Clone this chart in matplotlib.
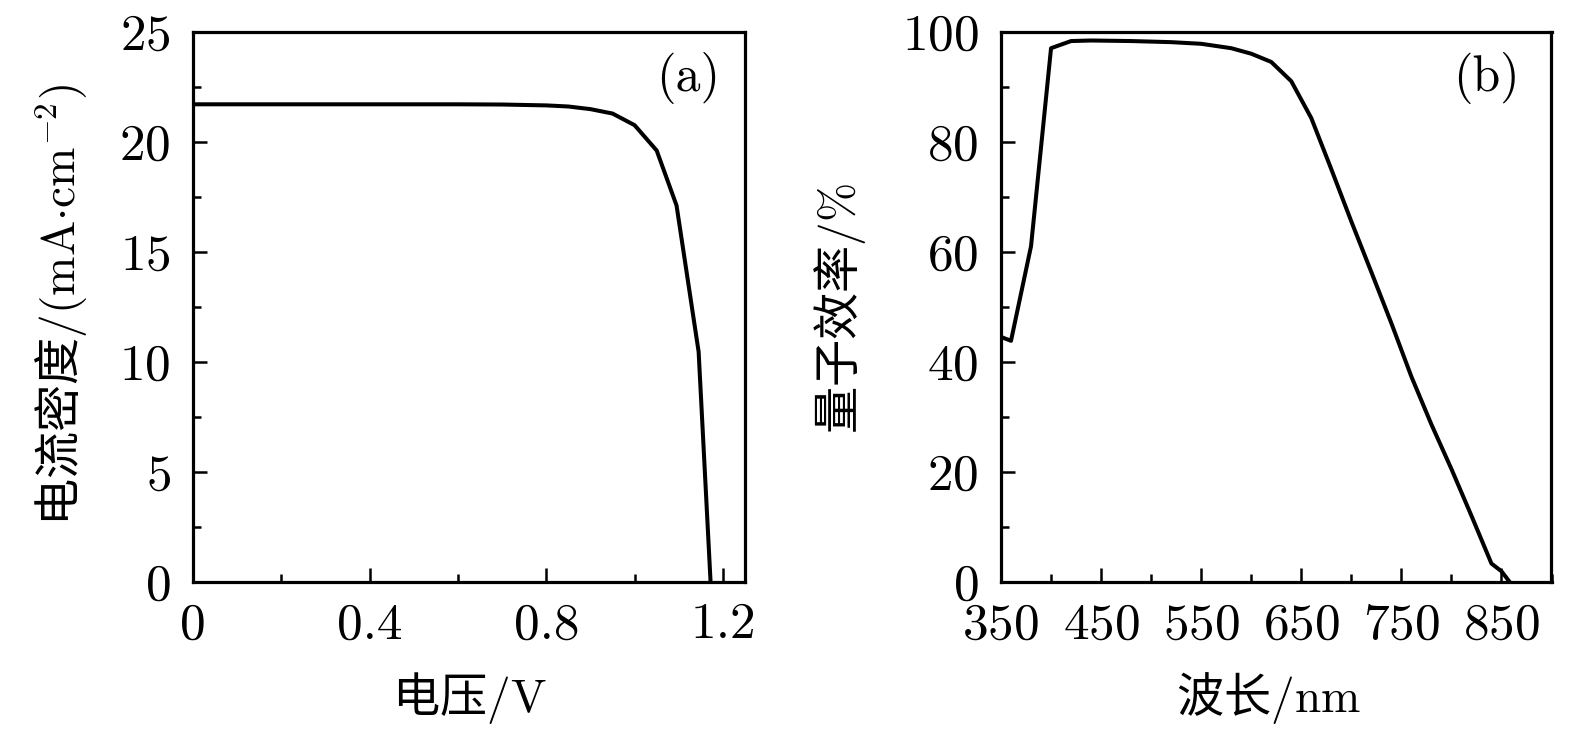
import matplotlib
matplotlib.use("Agg")
import matplotlib.pyplot as plt
from matplotlib.ticker import MultipleLocator

# ---- data ----
voltage = [0, 0.2, 0.4, 0.6, 0.7, 0.8, 0.85, 0.9, 0.95, 1.0, 1.05, 1.095, 1.145, 1.172]
current = [21.7, 21.7, 21.7, 21.7, 21.69, 21.65, 21.6, 21.48, 21.28, 20.75, 19.6, 17.1, 10.45, 0]

wavelength = [350, 360, 380, 400, 420, 440, 480, 520, 550, 580, 600, 620, 640, 660,
              680, 700, 720, 740, 760, 780, 800, 820, 840, 850, 858]
qe = [44.5, 43.8, 61.0, 97.0, 98.3, 98.4, 98.3, 98.1, 97.8, 97.0, 96.0, 94.5, 91.0, 84.3,
      75.0, 65.5, 56.3, 47.0, 37.3, 28.6, 20.5, 12.0, 3.3, 1.9, 0]

left_xticks = [0, 0.4, 0.8, 1.2]
left_xticklabels = ["0", "0.4", "0.8", "1.2"]
left_yticks = [0, 5, 10, 15, 20, 25]
right_xticks = [350, 450, 550, 650, 750, 850]
right_yticks = [0, 20, 40, 60, 80, 100]

xlabel_a = "电压$/\\mathrm{V}$"
ylabel_a = "电流密度$/(\\mathrm{mA}{\\cdot}\\mathrm{cm}^{-2})$"
xlabel_b = "波长$/\\mathrm{nm}$"
ylabel_b = "量子效率$/\\%$"
panel_a = "(a)"
panel_b = "(b)"

plt.rcParams["font.family"] = ["cmr10", "DejaVu Sans"]
plt.rcParams["mathtext.fontset"] = "cm"
plt.rcParams["axes.formatter.use_mathtext"] = True

W, H = 1575, 738
fig = plt.figure(figsize=(W / 100, H / 100), dpi=100)

def px_axes(x0, x1, ytop, ybot):
    return fig.add_axes([x0 / W, 1 - ybot / H, (x1 - x0) / W, (ybot - ytop) / H])

ax1 = px_axes(193, 745, 31.7, 581.7)
ax2 = px_axes(1001, 1551.5, 31.7, 581.7)

tick_fs = 37
lw_line = 2.9
for ax in (ax1, ax2):
    for s in ax.spines.values():
        s.set_linewidth(2.3)
    ax.tick_params(which="both", direction="in", top=False, right=False, width=1.8,
                   labelsize=tick_fs)
    ax.tick_params(which="major", length=10)
    ax.tick_params(which="minor", length=5.5)
    ax.tick_params(axis="x", which="both", pad=15)
    ax.tick_params(axis="y", which="both", pad=16)

# panel (a)
ax1.plot(voltage, current, color="black", lw=lw_line, solid_joinstyle="round")
ax1.set_xlim(0, 1.25)
ax1.set_ylim(0, 25)
ax1.set_xticks(left_xticks)
ax1.set_xticklabels(left_xticklabels)
ax1.set_yticks(left_yticks)
ax1.xaxis.set_minor_locator(MultipleLocator(0.2))
ax1.yaxis.set_minor_locator(MultipleLocator(2.5))
ax1.text(0.897, 0.916, panel_a, transform=ax1.transAxes, ha="center", va="center",
         fontsize=36)

# panel (b)
ax2.plot(wavelength, qe, color="black", lw=lw_line, solid_joinstyle="round")
ax2.set_xlim(350, 900)
ax2.set_ylim(0, 100)
ax2.set_xticks(right_xticks)
ax2.set_yticks(right_yticks)
ax2.xaxis.set_minor_locator(MultipleLocator(50))
ax2.yaxis.set_minor_locator(MultipleLocator(10))
ax2.text(0.882, 0.916, panel_b, transform=ax2.transAxes, ha="center", va="center",
         fontsize=36)

lab_fs = 34
cjk = "Noto Sans CJK SC"
fig.text(469 / W, 1 - 698 / H, xlabel_a, ha="center", va="center", fontsize=lab_fs, family=cjk)
fig.text(1268 / W, 1 - 698 / H, xlabel_b, ha="center", va="center", fontsize=lab_fs, family=cjk)
fig.text(62 / W, 1 - 305 / H, ylabel_a, ha="center", va="center", rotation=90,
         fontsize=lab_fs, family=cjk)
fig.text(840 / W, 1 - 308 / H, ylabel_b, ha="center", va="center", rotation=90,
         fontsize=lab_fs, family=cjk)

fig.savefig("out.png", dpi=100)
